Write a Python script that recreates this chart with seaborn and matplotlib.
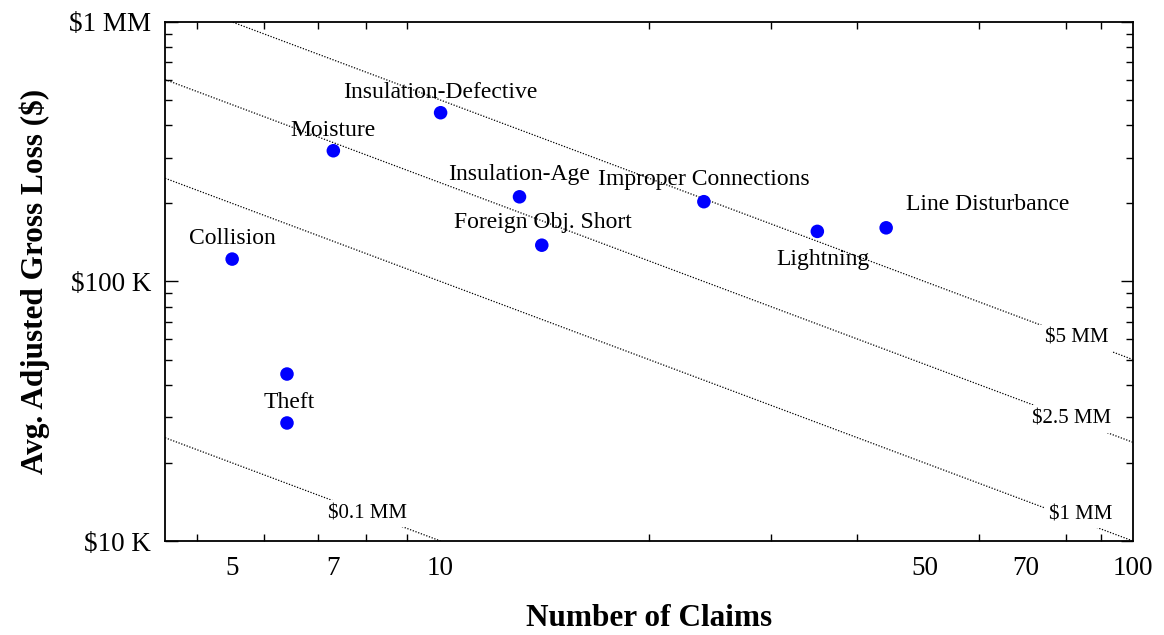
import numpy as np
import pandas as pd
import matplotlib
matplotlib.use('Agg')
import matplotlib.pyplot as plt
from matplotlib.ticker import FixedLocator, NullFormatter
import seaborn as sns

# claim causes (two theft points, only one labelled)
causes = ['Collision', 'Theft', 'Theft', 'Moisture', 'Insulation-Defective',
          'Insulation-Age', 'Foreign Obj. Short', 'Improper Connections',
          'Lightning', 'Line Disturbance']
claims = [5, 6, 6, 7, 10, 13, 14, 24, 35, 44]
avg_loss = [122000, 44000, 28500, 319000, 447000, 212000, 138000, 203000, 156000, 161000]
show_label = [True, False, True, True, True, True, True, True, True, True]

# iso-total-loss reference lines (as drawn in the original)
totals = [5e6, 2.4e6, 1e6, 1e5]
total_labels = ['$5 MM', '$2.5 MM', '$1 MM', '$0.1 MM']

x_ticks = [5, 7, 10, 50, 70, 100]
x_tick_labels = ['5', '7', '10', '50', '70', '100']
y_ticks = [1e4, 1e5, 1e6]
y_tick_labels = ['$10 K', '$100 K', '$1 MM']

df = pd.DataFrame({'cause': causes, 'claims': claims, 'loss': avg_loss, 'show': show_label})

sns.set_theme(style='ticks')
plt.rcParams['font.family'] = ['Liberation Serif', 'DejaVu Serif']
plt.rcParams['text.color'] = 'black'
plt.rcParams['axes.labelcolor'] = 'black'
plt.rcParams['xtick.color'] = 'black'
plt.rcParams['ytick.color'] = 'black'

fig, ax = plt.subplots(figsize=(11.64, 6.35), dpi=100)
fig.subplots_adjust(left=0.1418, right=0.9734, top=0.9654, bottom=0.148)

xs = np.geomspace(4, 100, 300)
label_x = [82.8, 81.4, 84.1, 7.85]
label_dy = [0, 0, 5, 0]
for t, lab, lx, dy in zip(totals, total_labels, label_x, label_dy):
    sns.lineplot(x=xs, y=t / xs, ax=ax, color='black', linewidth=0.9,
                 linestyle=(0, (1, 1.3)), estimator=None, sort=False)
    ax.annotate(lab, (lx, t / lx), xytext=(0, dy), textcoords='offset points',
                fontsize=15, ha='center', va='center',
                bbox=dict(facecolor='white', edgecolor='none', pad=3), zorder=3)

sns.scatterplot(data=df, x='claims', y='loss', ax=ax, color='#0000ff',
                s=95, edgecolor='none', zorder=4)

offsets = {'Collision': (0, 15), 'Theft': (1.5, 15), 'Moisture': (0, 14.5),
           'Insulation-Defective': (0, 14.5), 'Insulation-Age': (0, 16),
           'Foreign Obj. Short': (0.5, 16), 'Improper Connections': (0, 16),
           'Lightning': (4, -20), 'Line Disturbance': (73, 17)}
for _, r in df[df['show']].iterrows():
    ax.annotate(r['cause'], (r['claims'], r['loss']), xytext=offsets[r['cause']],
                textcoords='offset points', ha='center', va='center', fontsize=17,
                zorder=5)

ax.set_xscale('log')
ax.set_yscale('log')
ax.set_xlim(4, 100)
ax.set_ylim(1e4, 1e6)

ax.xaxis.set_major_locator(FixedLocator(x_ticks))
ax.set_xticklabels(x_tick_labels)
ax.xaxis.set_minor_locator(FixedLocator([4.45, 5.55, 6.65, 7.8, 8.95, 10,
                                         20, 30, 40, 50, 60, 70, 80, 90]))
ax.xaxis.set_minor_formatter(NullFormatter())
ax.set_yticks(y_ticks)
ax.set_yticklabels(y_tick_labels)

ax.tick_params(axis='x', which='major', length=0, pad=11, labelsize=19.5)
ax.tick_params(axis='x', which='minor', direction='in', length=5, width=1,
               top=True, bottom=True)
ax.tick_params(axis='y', which='major', direction='in', length=9, width=1,
               left=True, right=True, pad=10, labelsize=19.5)
ax.tick_params(axis='y', which='minor', direction='in', length=5, width=1,
               left=True, right=True)

for s in ax.spines.values():
    s.set_visible(True)
    s.set_color('black')
    s.set_linewidth(1.3)

ax.set_xlabel('Number of Claims', fontsize=22.5, fontweight='bold', labelpad=16)
ax.set_ylabel('Avg. Adjusted Gross Loss ($)', fontsize=22.5, fontweight='bold', labelpad=14)

fig.savefig('out.png', dpi=100)
